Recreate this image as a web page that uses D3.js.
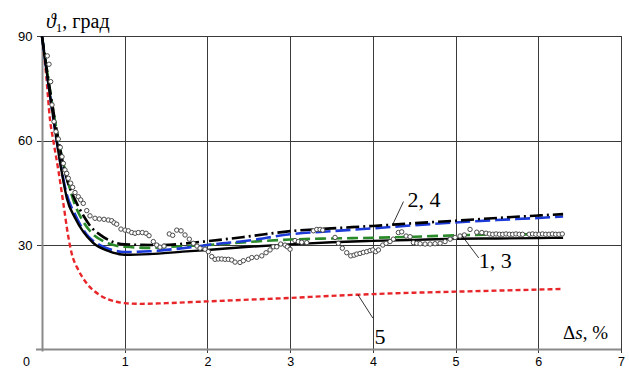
<!DOCTYPE html>
<html>
<head>
<meta charset="utf-8">
<script src="https://cdn.jsdelivr.net/npm/d3@7"></script>
<style>
  html, body { margin: 0; padding: 0; background: #fff; }
  svg { display: block; }
</style>
</head>
<body>
<svg id="chart" width="629" height="370"></svg>
<script>
// Axis ticks
const xTicks = [0, 1, 2, 3, 4, 5, 6, 7];
const yTicks = [30, 60, 90];

// Curve 1: solid black
const c1X = [0, 0.05, 0.1, 0.15, 0.2, 0.25, 0.3, 0.4, 0.5, 0.62, 0.8, 1.0, 1.3, 1.7, 2.0, 2.5, 3.0, 3.5, 4.0, 4.5, 5.0, 5.5, 6.0, 6.3];
const c1Y = [90, 81, 72.5, 64.5, 56.5, 49.5, 43.5, 37.8, 33.8, 30.6, 28.3, 27.2, 27.4, 28.1, 28.6, 29.5, 30.2, 30.8, 31.2, 31.5, 31.8, 31.9, 32.0, 32.1];

// Curve 2: black dash-dot
const c2X = [0, 0.1, 0.2, 0.3, 0.4, 0.5, 0.6, 0.7, 0.8, 1.0, 1.43, 1.95, 2.5, 3.0, 3.5, 4.0, 4.5, 5.0, 5.5, 6.0, 6.3];
const c2Y = [90, 74, 60, 49, 43, 38.5, 35, 33, 31.5, 30.2, 30.0, 31.0, 32.5, 34.0, 34.8, 35.5, 36.3, 37.0, 37.8, 38.5, 38.9];

// Curve 3: green dashes
const c3X = [0, 0.1, 0.2, 0.3, 0.4, 0.48, 0.6, 0.75, 0.9, 1.0, 1.3, 1.55, 2.0, 2.5, 3.0, 3.5, 4.0, 4.5, 5.0, 5.5, 6.0, 6.3];
const c3Y = [90, 74, 60, 49.5, 41.5, 37.5, 33.5, 31, 29.8, 29.5, 29.2, 29.5, 30.0, 30.9, 31.6, 31.9, 32.1, 32.4, 32.8, 33.0, 33.1, 33.2];

// Curve 4: blue long dashes
const c4X = [0, 0.1, 0.2, 0.3, 0.4, 0.54, 0.7, 0.82, 1.0, 1.3, 1.7, 2.1, 2.5, 3.0, 3.5, 4.0, 4.5, 5.0, 5.5, 6.0, 6.3];
const c4Y = [90, 72.5, 56.8, 44.5, 38.8, 33, 30, 28.8, 28.0, 28.2, 29.1, 30.3, 31.3, 33.1, 34.0, 34.8, 35.7, 36.5, 37.2, 37.8, 38.2];

// Curve 5: red short dashes
const c5X = [0, 0.05, 0.097, 0.137, 0.197, 0.258, 0.318, 0.359, 0.44, 0.54, 0.7, 0.9, 1.0, 1.2, 1.5, 2.0, 2.5, 3.0, 3.5, 4.0, 4.5, 5.0, 5.5, 6.0, 6.3];
const c5Y = [90, 79, 66, 60, 51.6, 42, 32.4, 27.6, 22.8, 19, 15.6, 13.7, 13.3, 13.1, 13.3, 13.8, 14.3, 14.8, 15.4, 15.9, 16.3, 16.6, 16.9, 17.2, 17.4];

// Measured points (open circles)
const expX = [0.064,0.085,0.105,0.121,0.145,0.169,0.197,0.221,0.242,0.258,0.278,0.299,0.318,0.347,0.371,0.399,0.439,0.468,0.499,0.541,
  0.580,0.641,0.693,0.750,0.802,0.843,0.871,0.903,0.955,1.004,1.044,1.085,1.125,1.164,1.213,1.258,1.294,1.346,1.387,1.427,
  1.475,1.539,1.580,1.629,1.681,1.729,1.781,1.830,1.874,1.911,1.971,2.011,2.052,2.092,2.132,2.173,2.213,2.253,2.294,2.334,
  2.394,2.434,2.495,2.536,2.596,2.657,2.709,2.757,2.797,2.838,2.886,2.938,2.966,2.999,3.059,3.099,3.140,3.201,3.281,3.322,
  3.362,3.394,3.543,3.583,3.631,3.684,3.733,3.773,3.805,3.845,3.885,3.926,3.966,3.999,4.035,4.067,4.120,4.160,4.208,4.248,
  4.308,4.349,4.402,4.450,4.490,4.531,4.571,4.631,4.692,4.752,4.813,4.873,4.934,4.994,5.054,5.106,5.175,5.256,5.317,5.369,
  5.409,5.45,5.49,5.53,5.57,5.61,5.65,5.69,5.73,5.77,5.81,5.89,5.93,5.97,6.01,6.05,6.09,6.13,6.17,6.21,6.25,6.29];
const expY = [84.4,82.0,77.0,70.3,65.5,62.6,60.5,58.1,55.4,53.5,51.6,50.6,49.2,47.8,46.6,45.1,43.9,43.0,42.0,39.9,
  38.4,37.7,37.5,37.4,37.2,37.0,36.4,36.0,34.6,34.3,34.1,33.6,33.4,33.6,33.6,33.4,32.7,31.0,30.0,29.4,
  29.7,33.2,32.8,34.3,34.1,32.9,31.7,30.5,29.7,29.1,28.8,28.1,26.7,25.9,26.0,26.0,25.9,25.9,25.7,25.1,
  25.0,25.5,25.9,26.4,26.5,26.9,27.8,28.6,29.5,29.5,30.3,30.0,29.5,28.8,31.3,31.0,30.8,30.7,34.1,34.5,
  34.5,34.3,32.2,30.5,29.1,27.8,26.9,27.1,27.4,27.6,27.9,28.1,28.4,28.6,28.1,28.6,30.0,30.5,31.0,31.7,
  33.6,33.8,32.6,32.4,30.7,30.5,30.4,30.3,30.3,30.4,30.5,31.0,31.7,32.2,32.6,32.9,34.5,33.7,33.6,33.4,
  33.2,33.1,33.2,33.1,33.1,33.2,33.1,33.1,33.2,33.1,33.1,33.1,33.2,33.1,33.1,33.2,33.1,33.1,33.2,33.1,33.1,33.2];

const svg = d3.select("#chart");
const x = d3.scaleLinear().domain([0, 7]).range([42, 621]);
const y = d3.scaleLinear().domain([0, 90]).range([349.4, 36.4]);

// Grid
const grid = svg.append("g").attr("shape-rendering", "crispEdges");
grid.selectAll("line.v").data(xTicks.slice(1)).join("line")
  .attr("x1", d => Math.round(x(d)) + 0.5).attr("x2", d => Math.round(x(d)) + 0.5)
  .attr("y1", y(90)).attr("y2", y(0) + 4)
  .attr("stroke", "#3a3a3a").attr("stroke-width", 1);
grid.selectAll("line.h").data(yTicks).join("line")
  .attr("x1", x(0) - 5).attr("x2", x(7))
  .attr("y1", d => Math.round(y(d)) + 0.5).attr("y2", d => Math.round(y(d)) + 0.5)
  .attr("stroke", "#3a3a3a").attr("stroke-width", 1);

// Axes
const xAxis = svg.append("g")
  .attr("transform", `translate(0,${Math.round(y(0)) + 0.5})`)
  .call(d3.axisBottom(x).tickValues(xTicks).tickSize(0).tickPadding(8).tickFormat(d3.format("d")));
xAxis.select(".domain").attr("stroke", "#8a8a8a").attr("stroke-width", 2).attr("d", `M${x(0) - 6},0H${x(7)}`);
xAxis.selectAll("text").attr("font-family", "'Liberation Sans', Arial, sans-serif").attr("font-size", 12.5).attr("fill", "#000");
xAxis.selectAll(".tick").filter(d => d === 0).select("text").attr("dx", -16);

const yAxis = svg.append("g")
  .attr("transform", `translate(${Math.round(x(0)) + 0.5},0)`)
  .call(d3.axisLeft(y).tickValues(yTicks).tickSize(0).tickPadding(10));
yAxis.select(".domain").attr("stroke", "#8a8a8a").attr("stroke-width", 2).attr("d", `M0,${y(90)}V${y(0) + 2}`);
yAxis.selectAll("text").attr("font-family", "'Liberation Sans', Arial, sans-serif").attr("font-size", 13).attr("fill", "#000");

// Curves
const line = d3.line().x(d => x(d[0])).y(d => y(d[1])).curve(d3.curveMonotoneX);
const zipXY = (xs, ys) => xs.map((v, i) => [v, ys[i]]);

const series = [
  { xs: c5X, ys: c5Y, color: "#e8262a", dash: "5,3", w: 2.4 },
  { xs: c3X, ys: c3Y, color: "#2a8a2a", dash: "11,5", w: 2.6 },
  { xs: c4X, ys: c4Y, color: "#1c3ad8", dash: "15,5", w: 2.6 },
  { xs: c2X, ys: c2Y, color: "#000", dash: "13,4,2,4", w: 2.6 },
  { xs: c1X, ys: c1Y, color: "#000", dash: null, w: 2.4 }
];
svg.append("g").selectAll("path").data(series).join("path")
  .attr("d", d => line(zipXY(d.xs, d.ys)))
  .attr("fill", "none")
  .attr("stroke", d => d.color)
  .attr("stroke-width", d => d.w)
  .attr("stroke-dasharray", d => d.dash);

// Measured points
svg.append("g").selectAll("circle").data(zipXY(expX, expY)).join("circle")
  .attr("cx", d => x(d[0])).attr("cy", d => y(d[1])).attr("r", 2.2)
  .attr("fill", "#fff").attr("stroke", "#4a4a4a").attr("stroke-width", 1);

// Curve labels with leader lines
const serif = "'Liberation Serif', 'Times New Roman', serif";
const leaders = [
  { from: [4.24, 35.9], to: [4.37, 42.5] },
  { from: [5.08, 32.6], to: [5.28, 26.3] },
  { from: [3.82, 15.7], to: [4.0, 9.0] }
];
svg.append("g").selectAll("line").data(leaders).join("line")
  .attr("x1", d => x(d.from[0])).attr("y1", d => y(d.from[1]))
  .attr("x2", d => x(d.to[0])).attr("y2", d => y(d.to[1]))
  .attr("stroke", "#000").attr("stroke-width", 0.8);

const labels = [
  { t: "2, 4", at: [4.42, 41.0] },
  { t: "1, 3", at: [5.28, 23.5] },
  { t: "5", at: [4.02, 1.5] }
];
svg.append("g").selectAll("text").data(labels).join("text")
  .attr("x", d => x(d.at[0])).attr("y", d => y(d.at[1]))
  .attr("font-family", serif).attr("font-size", 22).attr("fill", "#000")
  .text(d => d.t);

// Axis titles
const yTitle = svg.append("text").attr("x", 46).attr("y", 28)
  .attr("font-family", serif).attr("font-size", 20).attr("fill", "#000");
yTitle.append("tspan").attr("font-style", "italic").text("ϑ");
yTitle.append("tspan").attr("font-size", 13).attr("dy", 4).text("1");
yTitle.append("tspan").attr("dy", -4).text(", град");

const xTitle = svg.append("text").attr("x", 563).attr("y", 339)
  .attr("font-family", serif).attr("font-size", 19).attr("fill", "#000");
xTitle.append("tspan").text("Δ");
xTitle.append("tspan").attr("font-style", "italic").text("s");
xTitle.append("tspan").text(", %");
</script>
</body>
</html>
